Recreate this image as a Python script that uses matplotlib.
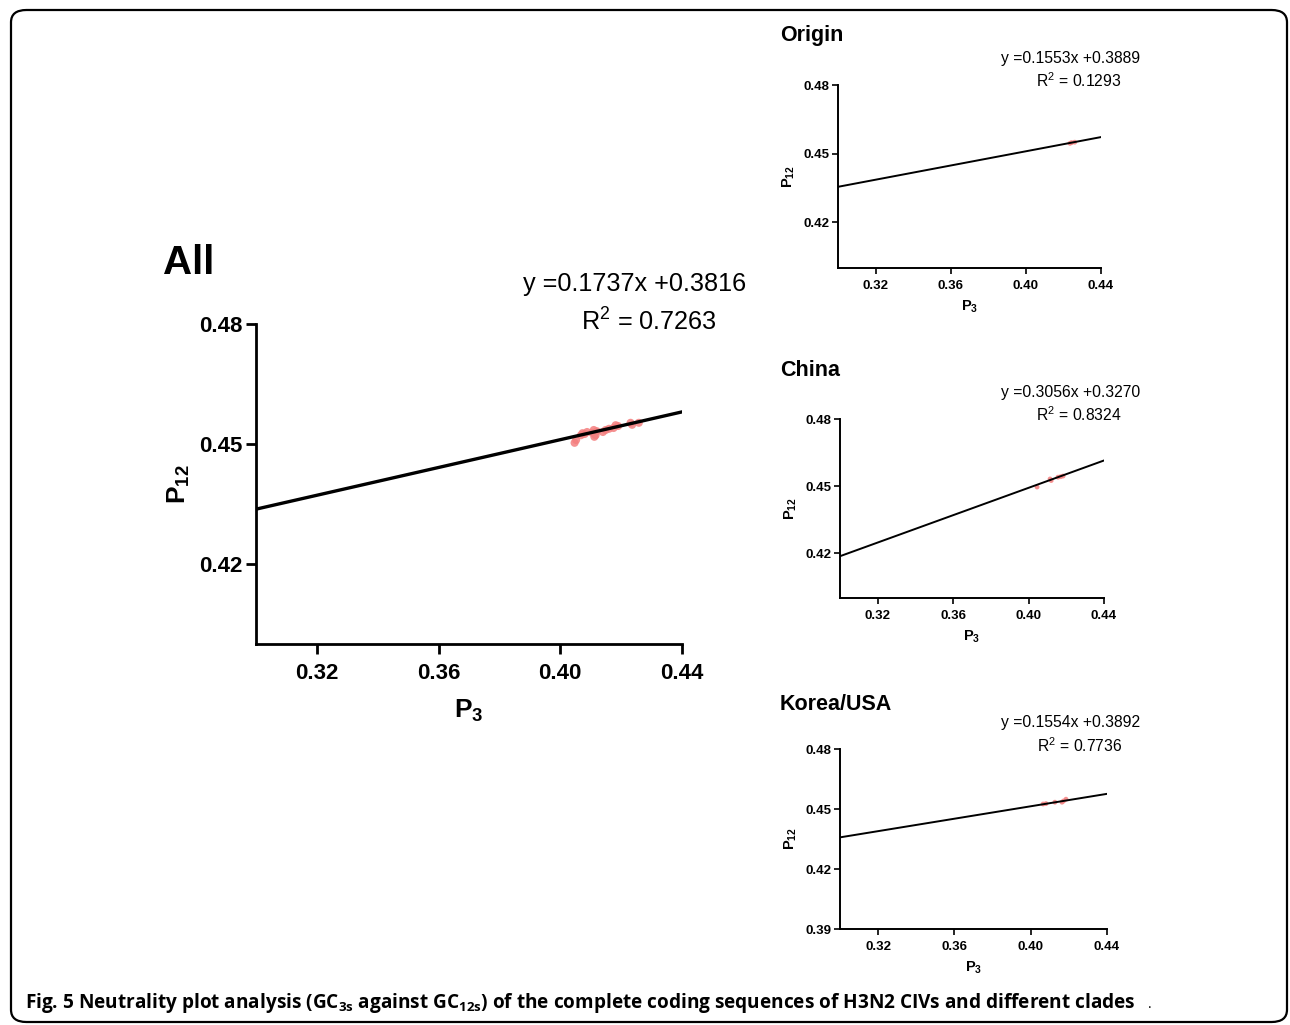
import numpy as np
import matplotlib
matplotlib.use('Agg')
import matplotlib.pyplot as plt
from matplotlib.patches import FancyBboxPatch

plt.rcParams['font.family'] = ['Liberation Sans', 'DejaVu Sans']
plt.rcParams['mathtext.default'] = 'regular'

# ---- data ----
all_p3 = [0.4047, 0.4052, 0.4068, 0.4073, 0.4080, 0.4088, 0.4105, 0.4110, 0.4112,
          0.4116, 0.4120, 0.4140, 0.4149, 0.4160, 0.4175, 0.4182, 0.4190, 0.4231,
          0.4236, 0.4258]
all_p12 = [0.4503, 0.4510, 0.4522, 0.4527, 0.4525, 0.4530, 0.4528, 0.4535, 0.4518,
           0.4522, 0.4532, 0.4530, 0.4535, 0.4538, 0.4540, 0.4547, 0.4545, 0.4553,
           0.4548, 0.4553]
all_fit = (0.1737, 0.3816)
all_r2 = 0.7263

origin_p3 = [0.4235, 0.4243, 0.4260]
origin_p12 = [0.4545, 0.4548, 0.4550]
origin_fit = (0.1553, 0.3889)
origin_r2 = 0.1293

china_p3 = [0.4045, 0.4114, 0.4120, 0.4156, 0.4170, 0.4183]
china_p12 = [0.4496, 0.4532, 0.4525, 0.4540, 0.4542, 0.4545]
china_fit = (0.3056, 0.3270)
china_r2 = 0.8324

korea_p3 = [0.4065, 0.4080, 0.4127, 0.4164, 0.4172, 0.4185]
korea_p12 = [0.4525, 0.4527, 0.4534, 0.4534, 0.4540, 0.4549]
korea_fit = (0.1554, 0.3892)
korea_r2 = 0.7736

xticks = [0.32, 0.36, 0.40, 0.44]
yticks_small = [0.42, 0.45, 0.48]
yticks_korea = [0.39, 0.42, 0.45, 0.48]

W, H = 1290, 1025
fig = plt.figure(figsize=(W / 100, H / 100), dpi=100)


def box(l, t, r, b):
    return [l / W, 1 - b / H, (r - l) / W, (b - t) / H]


def fx(x):
    return x / W


def fy(y):
    return 1 - y / H


# outer rounded frame
frame = FancyBboxPatch((fx(11), fy(1022)), fx(1287) - fx(11), fy(10) - fy(1022),
                       boxstyle='round,pad=0,rounding_size=0.012',
                       transform=fig.transFigure, fill=False, lw=1.6, ec='black')
fig.patches.append(frame)


def panel(rect, p3, p12, fit, ylim, yticks, big=False):
    ax = fig.add_axes(rect)
    slope, inter = fit
    xs = np.array([0.30, 0.44])
    lw = 2.4 if big else 1.4
    ax.scatter(p3, p12, s=34 if big else 12, color='#f47f7f', alpha=0.85,
               edgecolors='none', zorder=2)
    ax.plot(xs, slope * xs + inter, color='black', lw=lw, zorder=3)
    ax.set_xlim(0.30, 0.44)
    ax.set_ylim(*ylim)
    ax.set_xticks(xticks)
    ax.set_xticklabels([f'{v:.2f}' for v in xticks])
    ax.set_yticks(yticks)
    ax.set_yticklabels([f'{v:.2f}' for v in yticks])
    for s in ['top', 'right']:
        ax.spines[s].set_visible(False)
    for s in ['left', 'bottom']:
        ax.spines[s].set_linewidth(2.0 if big else 1.4)
    fs = 16 if big else 9.5
    ax.tick_params(width=2.0 if big else 1.2, length=7 if big else 4,
                   labelsize=fs)
    ax.tick_params(axis='x', pad=6.5 if big else 4.5)
    ax.tick_params(axis='y', pad=3 if big else 2)
    for lab in ax.get_xticklabels() + ax.get_yticklabels():
        lab.set_fontweight('bold')
    ax.set_xlabel('P$_3$', fontsize=19 if big else 10.5, fontweight='bold',
                  labelpad=10 if big else 5)
    ax.set_ylabel('P$_{12}$', fontsize=19 if big else 10.5, fontweight='bold',
                  labelpad=5 if big else 5)
    return ax


panel(box(256, 324, 682, 644), all_p3, all_p12, all_fit, (0.40, 0.48),
      yticks_small, big=True)
panel(box(838, 85, 1101, 268), origin_p3, origin_p12, origin_fit, (0.40, 0.48),
      yticks_small)
panel(box(840, 419, 1104, 598), china_p3, china_p12, china_fit, (0.40, 0.48),
      yticks_small)
panel(box(840, 749, 1107, 929), korea_p3, korea_p12, korea_fit, (0.39, 0.48),
      yticks_korea)

# titles
fig.text(fx(163), fy(263), 'All', fontsize=29, fontweight='bold', va='center')
fig.text(fx(780), fy(36), 'Origin', fontsize=15.5, fontweight='bold', va='center')
fig.text(fx(780), fy(371), 'China', fontsize=15.5, fontweight='bold', va='center')
fig.text(fx(780), fy(704), 'Korea/USA', fontsize=15.5, fontweight='bold', va='center')

# equations
fig.text(fx(746), fy(284), f'y ={all_fit[0]:.4f}x +{all_fit[1]:.4f}',
         fontsize=18.2, ha='right', va='center')
fig.text(fx(716), fy(322), f'R$^2$ = {all_r2:.4f}', fontsize=18.2,
         ha='right', va='center')

for fit, r2, y0 in [(origin_fit, origin_r2, 58), (china_fit, china_r2, 392),
                    (korea_fit, korea_r2, 723)]:
    fig.text(fx(1140), fy(y0), f'y ={fit[0]:.4f}x +{fit[1]:.4f}',
             fontsize=11.3, ha='right', va='center')
    fig.text(fx(1122), fy(y0 + 23), f'R$^2$ = {r2:.4f}', fontsize=11.3,
             ha='right', va='center')

# caption
fig.text(fx(25), fy(1003),
         'Fig. 5 Neutrality plot analysis (GC$_{3s}$ against GC$_{12s}$) of the complete '
         'coding sequences of H3N2 CIVs and different clades',
         fontsize=13.7, fontweight='bold', family=['Open Sans', 'DejaVu Sans'],
         va='center')
fig.text(fx(1148), fy(1005), '.', fontsize=10, family=['Open Sans', 'DejaVu Sans'],
         va='center')

fig.savefig('out.png', dpi=100)
